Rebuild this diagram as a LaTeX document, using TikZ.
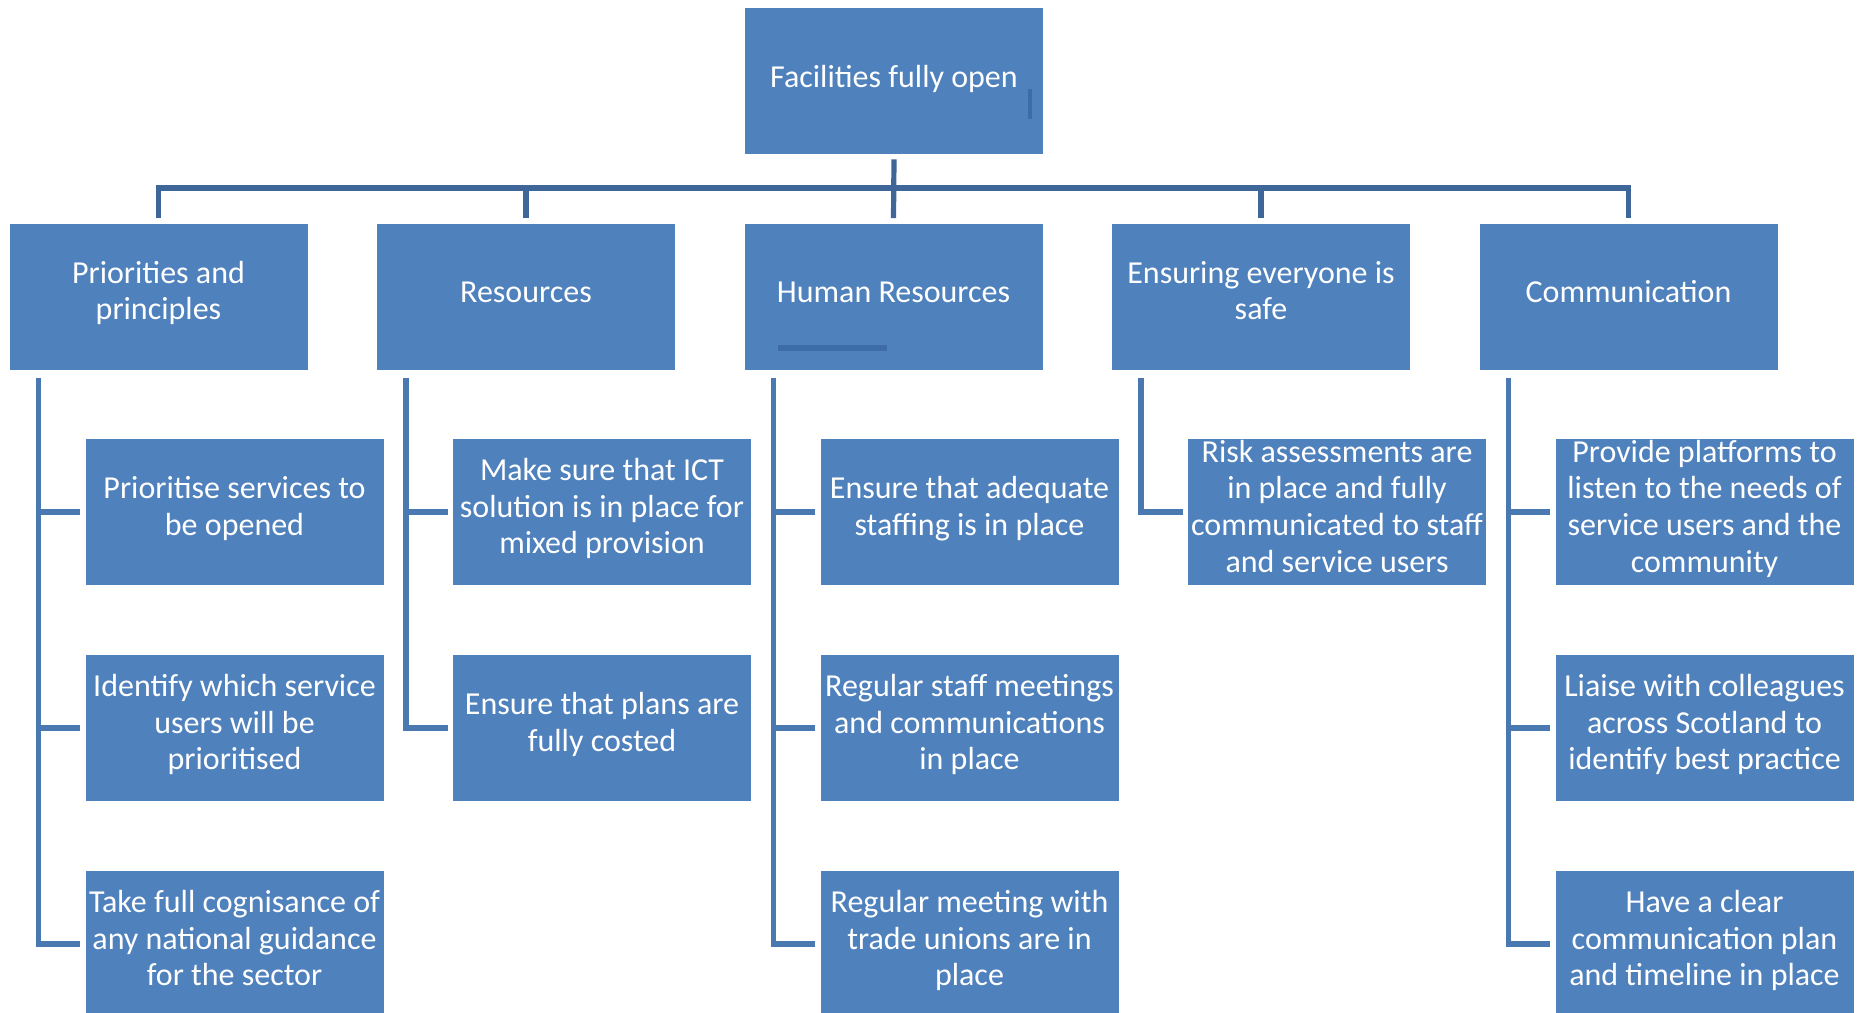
\documentclass[tikz,border=0pt]{standalone}
\usepackage{fontspec}
\setmainfont{Carlito}
\definecolor{boxblue}{HTML}{4F81BD}
\definecolor{busblue}{HTML}{3F6698}
\definecolor{stemblue}{HTML}{4A78B0}
\definecolor{markblue}{HTML}{3E6CA6}
\tikzset{
  box/.style={rectangle, fill=boxblue, text=white, minimum width=149pt,
    minimum height=73pt, inner xsep=1pt, inner ysep=0pt, align=center,
    font=\fontsize{16}{18.35}\selectfont,
    execute at begin node={\rule{0pt}{12pt}},
    execute at end node={\rule[-6pt]{0pt}{6pt}}},
  bus/.style={busblue, line width=2.6pt},
  stem/.style={stemblue, line width=2.6pt},
  straymark/.style={markblue, line width=2.4pt}
}
\begin{document}
\begin{tikzpicture}[x=0.5pt, y=-0.5pt]
    \useasboundingbox (0,0) rectangle (1857,1012);
    \clip (0,0) rectangle (1857,1012);

    % Goal
    \node[box] (top) at (894,81) {Facilities fully open};

    % Themes
    \node[box] (p1) at (158.5,296.5) {Priorities and\\principles};
    \node[box] (p2) at (526,296.5) {Resources};
    \node[box] (p3) at (893.5,296.5) {Human Resources};
    \node[box] (p4) at (1261,296.5) {Ensuring everyone is\\safe};
    \node[box] (p5) at (1628.5,296.5) {Communication};

    % Actions
    \node[box] (c11) at (234.5,512) {Prioritise services to\\be opened};
    \node[box] (c12) at (234.5,728) {Identify which service\\users will be\\prioritised};
    \node[box] (c13) at (234.5,944) {Take full cognisance of\\any national guidance\\for the sector};
    \node[box] (c21) at (602,512) {Make sure that ICT\\solution is in place for\\mixed provision};
    \node[box] (c22) at (602,728) {Ensure that plans are\\fully costed};
    \node[box] (c31) at (969.5,512) {Ensure that adequate\\staffing is in place};
    \node[box] (c32) at (969.5,728) {Regular staff meetings\\and communications\\in place};
    \node[box] (c33) at (969.5,944) {Regular meeting with\\trade unions are in\\place};
    \node[box] (c41) at (1337,512) {Risk assessments are\\in place and fully\\communicated to staff\\and service users};
    \node[box] (c51) at (1704.5,512) {Provide platforms to\\listen to the needs of\\service users and the\\community};
    \node[box] (c52) at (1704.5,728) {Liaise with colleagues\\across Scotland to\\identify best practice};
    \node[box] (c53) at (1704.5,944) {Have a clear\\communication plan\\and timeline in place};

    % Bus from goal to themes
    \coordinate (bus) at (894,188);
    \draw[bus] ([yshift=-2.5pt]top.south) -- ([yshift=2.5pt]p3.north);
    \draw[bus] ([yshift=2.5pt]p1.north) -- (p1.north |- bus) -- (p5.north |- bus) -- ([yshift=2.5pt]p5.north);
    \draw[bus] (p2.north |- bus) -- ([yshift=2.5pt]p2.north);
    \draw[bus] (p4.north |- bus) -- ([yshift=2.5pt]p4.north);

    % Stems from themes to actions
    \coordinate (s1) at ([xshift=-60pt,yshift=-4pt]p1.south);
    \coordinate (s2) at ([xshift=-60pt,yshift=-4pt]p2.south);
    \coordinate (s3) at ([xshift=-60pt,yshift=-4pt]p3.south);
    \coordinate (s4) at ([xshift=-60pt,yshift=-4pt]p4.south);
    \coordinate (s5) at ([xshift=-60pt,yshift=-4pt]p5.south);

    \draw[stem] (s1) |- ([xshift=-2.5pt]c13.west);
    \draw[stem] (s1 |- c11.west) -- ([xshift=-2.5pt]c11.west);
    \draw[stem] (s1 |- c12.west) -- ([xshift=-2.5pt]c12.west);

    \draw[stem] (s2) |- ([xshift=-2.5pt]c22.west);
    \draw[stem] (s2 |- c21.west) -- ([xshift=-2.5pt]c21.west);

    \draw[stem] (s3) |- ([xshift=-2.5pt]c33.west);
    \draw[stem] (s3 |- c31.west) -- ([xshift=-2.5pt]c31.west);
    \draw[stem] (s3 |- c32.west) -- ([xshift=-2.5pt]c32.west);

    \draw[stem] (s4) |- ([xshift=-2.5pt]c41.west);

    \draw[stem] (s5) |- ([xshift=-2.5pt]c53.west);
    \draw[stem] (s5 |- c51.west) -- ([xshift=-2.5pt]c51.west);
    \draw[stem] (s5 |- c52.west) -- ([xshift=-2.5pt]c52.west);

    % Stray marks inside two boxes
    \draw[straymark, line width=1.6pt] (1030,89) -- (1030,119);
    \draw[straymark, line width=3pt] (778,348) -- (887,348);
\end{tikzpicture}
\end{document}
